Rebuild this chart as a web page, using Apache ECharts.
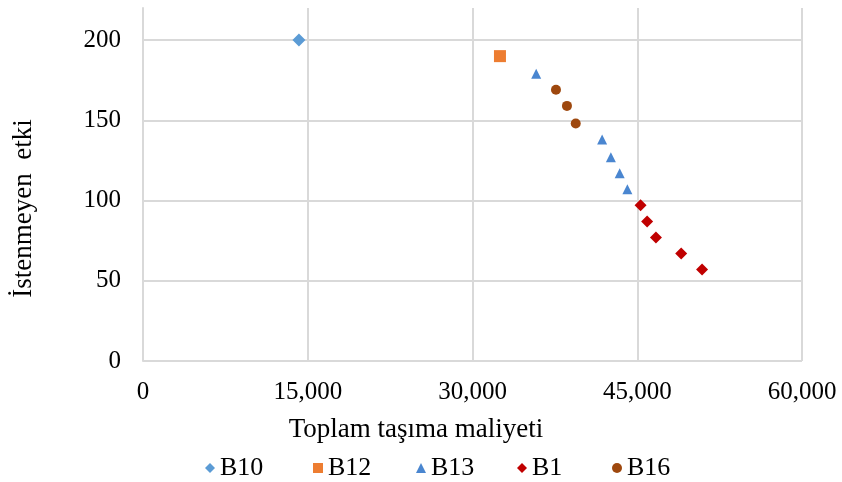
<!DOCTYPE html>
<html><head><meta charset="utf-8">
<script src="https://cdn.jsdelivr.net/npm/echarts@6/dist/echarts.min.js"></script>
<style>html,body{margin:0;padding:0;background:#fff}#c{width:842px;height:482px}</style>
</head><body><div id="c"></div>
<script>
const seriesNames = ['B10', 'B12', 'B13', 'B1', 'B16'];
const b10 = [[14200, 200]];
const b12 = [[32500, 190]];
const b13 = [[35800, 179], [41800, 138], [42600, 127], [43400, 117], [44100, 107]];
const b1 = [[45300, 97], [45900, 87], [46700, 77], [49000, 67], [50900, 57]];
const b16 = [[37600, 169], [38600, 159], [39400, 148]];
const yGridValues = [0, 50, 100, 150, 200];
const xTicks = [0, 15000, 30000, 45000, 60000];

const font = '"Liberation Serif","Times New Roman",serif';
const colors = ['#5B9BD5', '#ED7D31', '#4A86D0', '#C00000', '#9E480E'];
const symbols = ['diamond', 'rect', 'triangle', 'diamond', 'circle'];
const sizes = [13, 12, 10, 12, 10];
const datas = [b10, b12, b13, b1, b16];
const legendLefts = [200, 308, 411, 512, 607];

const chart = echarts.init(document.getElementById('c'), null, {renderer: 'canvas'});
const series = seriesNames.map((n, i) => ({
  name: n, type: 'scatter', data: datas[i], symbol: symbols[i], symbolSize: sizes[i],
  itemStyle: {color: colors[i], opacity: 1}, z: 5
}));
series.push({
  type: 'line', data: [], silent: true, z: 1,
  markLine: {
    silent: true, symbol: 'none', label: {show: false},
    lineStyle: {color: '#d9d9d9', width: 2, type: 'solid'},
    data: yGridValues.map(v => ({yAxis: v}))
  }
});
chart.setOption({
  animation: false,
  backgroundColor: '#fff',
  grid: {left: 143, right: 40, top: 8, bottom: 121, containLabel: false},
  xAxis: {
    type: 'value', min: 0, max: 60000, interval: 15000,
    name: 'Toplam taşıma maliyeti', nameLocation: 'middle', nameGap: 55,
    nameTextStyle: {fontFamily: font, fontSize: 27, color: '#000', padding: [0, 113, 0, 0]},
    axisLine: {show: false},
    axisTick: {show: false},
    axisLabel: {fontFamily: font, fontSize: 25, color: '#000', margin: 19,
      formatter: v => v.toLocaleString('en-US')},
    splitLine: {show: true, lineStyle: {color: '#d9d9d9', width: 2}}
  },
  yAxis: {
    type: 'value', min: 0, max: 220, interval: 50,
    name: 'İstenmeyen  etki', nameLocation: 'middle', nameGap: 106,
    nameTextStyle: {fontFamily: font, fontSize: 27, color: '#000', padding: [0, 48, 0, 0]},
    axisLine: {show: true, lineStyle: {color: '#d9d9d9', width: 2}},
    axisTick: {show: false},
    axisLabel: {fontFamily: font, fontSize: 25, color: '#000', margin: 22, showMaxLabel: false},
    splitLine: {show: false}
  },
  legend: seriesNames.map((n, i) => ({
    data: [n], left: legendLefts[i], top: 450, itemWidth: 10, itemHeight: 10, itemGap: 0,
    icon: symbols[i],
    textStyle: {fontFamily: font, fontSize: 26, color: '#000', padding: [0, 0, 0, 0]}
  })),
  series: series
});
</script></body></html>
